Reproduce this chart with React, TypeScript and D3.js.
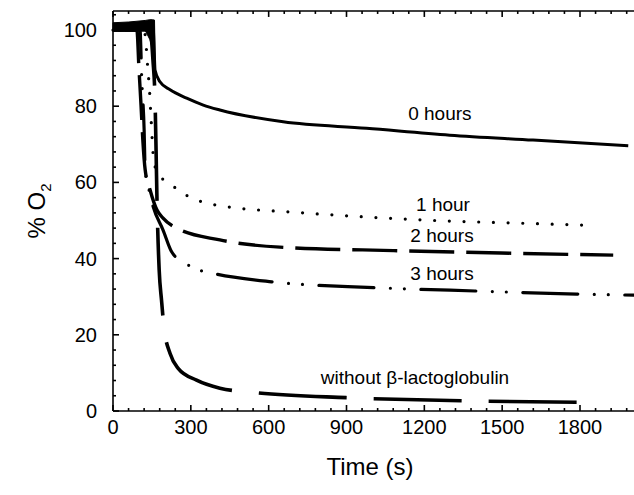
import React from "react";
import * as d3 from "d3";

// ---- data (time in s, % O2) ----
const t0h = [0, 66, 143, 154, 159, 162, 181, 220, 284, 348, 412, 656, 977, 1298, 1619, 1986];
const v0h = [100.8, 101.0, 101.3, 101.5, 94, 89.5, 86.4, 84.3, 82.1, 80.3, 79.0, 75.9, 74.2, 72.4, 71.1, 69.6];

const t1h = [0, 120, 130, 135, 139, 147, 155, 166, 181, 226, 281, 335, 393, 733, 958, 1241, 1569, 1806];
const v1h = [100, 100, 93.9, 89, 86, 76.4, 67.2, 63.3, 61.7, 59.3, 56.7, 55.1, 54.1, 52.0, 51.0, 50.0, 49.3, 48.8];

const t2h = [0, 92, 100, 108, 115, 124, 143, 169, 192, 245, 412, 643, 1081, 1542, 1928];
const v2h = [100, 100, 90, 80.3, 71.1, 63.3, 58, 52.8, 50.7, 48.0, 44.9, 43.0, 42.1, 41.4, 40.9];

const t3h = [0, 104, 111, 120, 124, 135, 155, 193, 226, 278, 332, 387, 612, 1004, 1395, 1787, 2015];
const v3h = [100, 100, 86.9, 73.8, 63.3, 59.3, 53.6, 47.5, 41.8, 38.8, 37.0, 36.1, 33.9, 32.4, 31.5, 30.7, 30.4];

const tW = [0, 143, 154, 162, 166, 169, 178, 187, 197, 220, 251, 322, 412, 553, 899, 1342, 1787];
const vW = [100, 100, 92.1, 81.6, 68.5, 57.2, 37, 29.1, 21.7, 15.1, 11.2, 8.1, 6.0, 4.8, 3.5, 2.7, 2.3];

// noisy baseline band before injection
const bandT = [0, 61, 124, 142, 152, 160, 163];
const bandLow = [99.6, 99.7, 99.9, 97.5, 95, 93, 90];
const bandHigh = [101.9, 102.1, 102.5, 102.7, 102.7, 102.6, 90];

const xMajor = [0, 300, 600, 900, 1200, 1500, 1800];
const yMajor = [0, 20, 40, 60, 80, 100];

const labels = [
  { text: "0 hours", t: 1260, v: 78.2 },
  { text: "1 hour", t: 1272, v: 54.2 },
  { text: "2 hours", t: 1268, v: 46.2 },
  { text: "3 hours", t: 1268, v: 36.2 },
  { text: "without \u03b2-lactoglobulin", t: 1164, v: 9.0 },
];

const W = 634, H = 495;
const FONT = "'Liberation Sans', Arial, Helvetica, sans-serif";

export default function App() {
  const x = d3.scaleLinear().domain([0, 1800]).range([113, 580]);
  const y = d3.scaleLinear().domain([0, 100]).range([411, 30]);
  const yTop = y(105);
  const xRight = x(2060);

  const mk = (ts: number[], vs: number[]) =>
    ts.map((t, i) => [t, vs[i]] as [number, number]).reverse();
  const line = d3
    .line<[number, number]>()
    .x((d) => x(d[0]))
    .y((d) => y(d[1]))
    .curve(d3.curveMonotoneX);

  const band = d3
    .area<number>()
    .x((d, i) => x(bandT[i]))
    .y0((d, i) => y(bandLow[i]))
    .y1((d, i) => y(bandHigh[i]))
    .curve(d3.curveLinear);

  const xMinor = d3.range(0, 2100, 60).filter((t) => t % 300 !== 0);
  const xMaj = d3.range(0, 2100, 300);
  const yMinor = d3.range(0, 105, 4).filter((v) => v % 20 !== 0);

  return (
    <svg
      width={W}
      height={H}
      style={{ position: "absolute", left: 0, top: 0, background: "#fff" }}
    >
      <rect x={0} y={0} width={W} height={H} fill="#fff" />
      {/* frame */}
      <g stroke="#000" strokeWidth={1.6} fill="none">
        <line x1={x(0)} x2={x(0)} y1={yTop} y2={y(0)} />
        <line x1={x(0)} x2={xRight} y1={y(0)} y2={y(0)} />
        <line x1={x(0)} x2={xRight} y1={yTop} y2={yTop} />
        {xMaj.map((t) => (
          <g key={"xm" + t}>
            <line x1={x(t)} x2={x(t)} y1={y(0)} y2={y(0) - 6} />
            <line x1={x(t)} x2={x(t)} y1={yTop} y2={yTop + 6} />
          </g>
        ))}
        {xMinor.map((t) => (
          <g key={"xn" + t}>
            <line x1={x(t)} x2={x(t)} y1={y(0)} y2={y(0) - 3} />
            <line x1={x(t)} x2={x(t)} y1={yTop} y2={yTop + 3} />
          </g>
        ))}
        {yMajor.map((v) => (
          <line key={"ym" + v} x1={x(0)} x2={x(0) + 6} y1={y(v)} y2={y(v)} />
        ))}
        {yMinor.map((v) => (
          <line key={"yn" + v} x1={x(0)} x2={x(0) + 3} y1={y(v)} y2={y(v)} />
        ))}
      </g>

      {/* tick labels */}
      <g fontFamily={FONT} fontSize={20} fill="#000">
        {xMajor.map((t) => (
          <text key={"xl" + t} x={x(t)} y={434} textAnchor="middle">
            {t}
          </text>
        ))}
        {yMajor.map((v) => (
          <text key={"yl" + v} x={97} y={y(v) + 7} textAnchor="end">
            {v}
          </text>
        ))}
      </g>

      {/* axis titles */}
      <text
        x={370}
        y={475}
        textAnchor="middle"
        fontFamily={FONT}
        fontSize={24}
        fill="#000"
      >
        Time (s)
      </text>
      <text
        transform="translate(45,211) rotate(-90)"
        textAnchor="middle"
        fontFamily={FONT}
        fontSize={24}
        fill="#000"
      >
        % O
        <tspan fontSize={15} dy={6}>
          2
        </tspan>
      </text>

      {/* curves */}
      <g fill="none" stroke="#000">
        <path d={band(bandT) || ""} fill="#000" stroke="#000" strokeWidth={1} />
        <path d={line(mk(t0h, v0h)) || ""} strokeWidth={3} />
        <path
          d={line(mk(t1h, v1h)) || ""}
          strokeWidth={3.2}
          strokeLinecap="round"
          strokeDasharray="0 14.7"
        />
        <path
          d={line(mk(t2h, v2h)) || ""}
          strokeWidth={3.4}
          strokeDasharray="45 12"
          strokeDashoffset={12}
        />
        <path
          d={line(mk(t3h, v3h)) || ""}
          strokeWidth={3.2}
          strokeLinecap="round"
          strokeDasharray="55 16.5 0 14 0 16.5"
          strokeDashoffset={44}
        />
        <path
          d={line(mk(tW, vW)) || ""}
          strokeWidth={3.6}
          strokeDasharray="88 27"
        />
      </g>

      {/* curve labels */}
      <g fontFamily={FONT} fontSize={19} fill="#000" textAnchor="middle">
        {labels.map((l) => (
          <text key={l.text} x={x(l.t)} y={y(l.v) + 7}>
            {l.text}
          </text>
        ))}
      </g>
    </svg>
  );
}
